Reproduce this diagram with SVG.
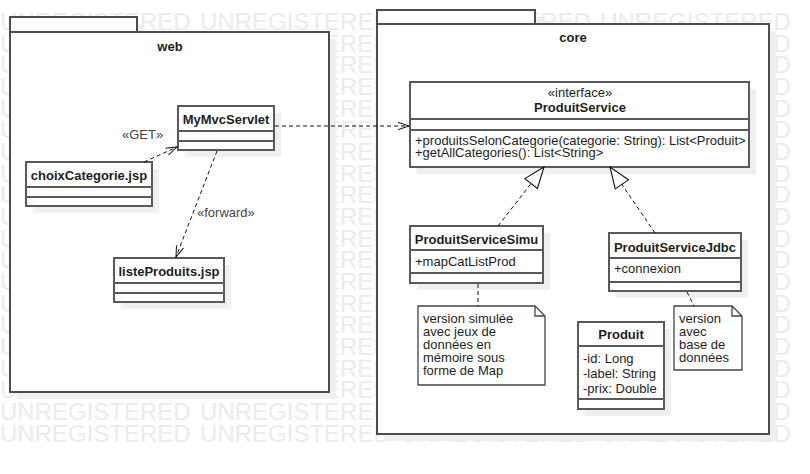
<svg xmlns="http://www.w3.org/2000/svg" width="810" height="474" viewBox="0 0 810 474">
<style>
text{font-family:"Liberation Sans",Arial,sans-serif;font-size:13px;fill:#1e1e1e}
.wm{font-size:24px;fill:#ebebeb;word-spacing:2.7px}
.b{font-weight:bold}
.c{text-anchor:middle}
.lbl{fill:#444}
.pkg{fill:#fff;stroke:#4d4d4d;stroke-width:2}
.sh{fill:#efefef}
.cls{fill:#fff;stroke:#5a5a5a;stroke-width:2}
.ln{stroke:#5a5a5a;stroke-width:2;fill:none}
.note{fill:#fff;stroke:#444;stroke-width:1.3}
.dash{fill:none;stroke:#111;stroke-width:1;stroke-dasharray:4,3}
</style>
<defs>
<marker id="open" markerUnits="userSpaceOnUse" markerWidth="14" markerHeight="10" refX="11" refY="4" orient="auto" overflow="visible">
<path d="M0,0.3 L11,4 L0,7.7" fill="none" stroke="#111" stroke-width="1" stroke-dasharray="none"/>
</marker>
<marker id="tri" markerUnits="userSpaceOnUse" markerWidth="24" markerHeight="18" refX="21" refY="8" orient="auto" overflow="visible">
<path d="M0,0 L21,8 L0,16 Z" fill="#fff" stroke="#111" stroke-width="1.1" stroke-dasharray="none"/>
</marker>
</defs>
<g id="watermark">
<text class="wm" x="0" y="30">UNREGISTERED UNREGISTERED UNREGISTERED UNREGISTERED<tspan x="0" y="420">UNREGISTERED UNREGISTERED UNREGISTERED UNREGISTERED</tspan><tspan x="0" y="441.67">UNREGISTERED UNREGISTERED UNREGISTERED UNREGISTERED</tspan><tspan x="0" y="51.67">U</tspan><tspan x="0" y="73.33">U</tspan><tspan x="0" y="95">U</tspan><tspan x="0" y="116.67">U</tspan><tspan x="0" y="138.33">U</tspan><tspan x="0" y="160">U</tspan><tspan x="0" y="181.67">U</tspan><tspan x="0" y="203.33">U</tspan><tspan x="0" y="225">U</tspan><tspan x="0" y="246.67">U</tspan><tspan x="0" y="268.33">U</tspan><tspan x="0" y="290">U</tspan><tspan x="0" y="311.67">U</tspan><tspan x="0" y="333.33">U</tspan><tspan x="0" y="355">U</tspan><tspan x="0" y="376.67">U</tspan><tspan x="0" y="398.33">U</tspan><tspan x="324" y="51.67">ERED</tspan><tspan x="324" y="73.33">ERED</tspan><tspan x="324" y="95">ERED</tspan><tspan x="324" y="116.67">ERED</tspan><tspan x="324" y="138.33">ERED</tspan><tspan x="324" y="160">ERED</tspan><tspan x="324" y="181.67">ERED</tspan><tspan x="324" y="203.33">ERED</tspan><tspan x="324" y="225">ERED</tspan><tspan x="324" y="246.67">ERED</tspan><tspan x="324" y="268.33">ERED</tspan><tspan x="324" y="290">ERED</tspan><tspan x="324" y="311.67">ERED</tspan><tspan x="324" y="333.33">ERED</tspan><tspan x="324" y="355">ERED</tspan><tspan x="324" y="376.67">ERED</tspan><tspan x="324" y="398.33">ERED</tspan><tspan x="757.4" y="51.67">ED</tspan><tspan x="757.4" y="73.33">ED</tspan><tspan x="757.4" y="95">ED</tspan><tspan x="757.4" y="116.67">ED</tspan><tspan x="757.4" y="138.33">ED</tspan><tspan x="757.4" y="160">ED</tspan><tspan x="757.4" y="181.67">ED</tspan><tspan x="757.4" y="203.33">ED</tspan><tspan x="757.4" y="225">ED</tspan><tspan x="757.4" y="246.67">ED</tspan><tspan x="757.4" y="268.33">ED</tspan><tspan x="757.4" y="290">ED</tspan><tspan x="757.4" y="311.67">ED</tspan><tspan x="757.4" y="333.33">ED</tspan><tspan x="757.4" y="355">ED</tspan><tspan x="757.4" y="376.67">ED</tspan><tspan x="757.4" y="398.33">ED</tspan></text>
</g>
<g id="pkg-web">
<rect class="sh" x="17" y="24" width="127" height="15"/>
<rect class="sh" x="17" y="39" width="319" height="360"/>
<rect class="pkg" x="10" y="17" width="127" height="15"/>
<rect class="pkg" x="10" y="32" width="319" height="360"/>
<text class="b c" x="170" y="51">web</text>
</g>
<g id="pkg-core">
<rect class="sh" x="384" y="17" width="158" height="14"/>
<rect class="sh" x="384" y="31" width="392" height="410"/>
<rect class="pkg" x="377" y="10" width="158" height="14"/>
<rect class="pkg" x="377" y="24" width="392" height="410"/>
<text class="b c" x="573" y="42">core</text>
</g>
<g id="MyMvcServlet">
<rect class="sh" x="185" y="113" width="96" height="44"/>
<rect class="cls" x="178" y="106" width="96" height="44"/>
<path class="ln" d="M178,131 H274 M178,141 H274"/>
<text class="b c" x="226" y="123.5">MyMvcServlet</text>
</g>
<g id="choixCategorie">
<rect class="sh" x="33" y="169" width="126" height="44"/>
<rect class="cls" x="26" y="162" width="126" height="44"/>
<path class="ln" d="M26,187 H152 M26,197 H152"/>
<text class="b c" x="89" y="179.5">choixCategorie.jsp</text>
</g>
<g id="listeProduits">
<rect class="sh" x="121" y="265" width="110" height="44"/>
<rect class="cls" x="114" y="258" width="110" height="44"/>
<path class="ln" d="M114,283 H224 M114,293 H224"/>
<text class="b c" x="169" y="275.5">listeProduits.jsp</text>
</g>
<g id="ProduitService">
<rect class="sh" x="417" y="89" width="339" height="85"/>
<rect class="cls" x="410" y="82" width="339" height="85"/>
<path class="ln" d="M410,119 H749 M410,130 H749"/>
<text class="c" x="580" y="97">«interface»</text>
<text class="b c" x="580" y="111.5">ProduitService</text>
<text x="415" y="145">+produitsSelonCategorie(categorie: String): List&lt;Produit&gt;</text>
<text x="415" y="157">+getAllCategories(): List&lt;String&gt;</text>
</g>
<g id="ProduitServiceSimu">
<rect class="sh" x="417" y="233" width="133" height="57"/>
<rect class="cls" x="410" y="226" width="133" height="57"/>
<path class="ln" d="M410,250 H543 M410,273 H543"/>
<text class="b c" x="476.5" y="244">ProduitServiceSimu</text>
<text x="415" y="265.5">+mapCatListProd</text>
</g>
<g id="ProduitServiceJdbc">
<rect class="sh" x="616" y="240" width="132" height="58"/>
<rect class="cls" x="609" y="233" width="132" height="58"/>
<path class="ln" d="M609,258 H741 M609,282 H741"/>
<text class="b c" x="675" y="251.5">ProduitServiceJdbc</text>
<text x="614" y="273">+connexion</text>
</g>
<g id="Produit">
<rect class="sh" x="585" y="329" width="86" height="87"/>
<rect class="cls" x="578" y="322" width="86" height="87"/>
<path class="ln" d="M578,346 H664 M578,399 H664"/>
<text class="b c" x="621" y="338.5">Produit</text>
<text x="583" y="362.5">-id: Long</text>
<text x="583" y="377.5">-label: String</text>
<text x="583" y="392.5">-prix: Double</text>
</g>
<g id="note-simu">
<path class="note" d="M418,306 H535 L545,316 V385 H418 Z M535,306 V316 H545"/>
<text x="423" y="322.5">version simulée</text>
<text x="423" y="335.5">avec jeux de</text>
<text x="423" y="348.5">données en</text>
<text x="423" y="361.5">mémoire sous</text>
<text x="423" y="374.5">forme de Map</text>
</g>
<g id="note-jdbc">
<path class="note" d="M674,306 H732 L742,316 V370 H674 Z M732,306 V316 H742"/>
<text x="679" y="322.5">version</text>
<text x="679" y="335.5">avec</text>
<text x="679" y="348.5">base de</text>
<text x="679" y="361.5">données</text>
</g>
<g id="connectors">
<path class="dash" d="M144,162 L177,147" marker-end="url(#open)"/>
<text class="lbl" x="122" y="138.5">«GET»</text>
<path class="dash" d="M217,151 L176,257" marker-end="url(#open)"/>
<text class="lbl" x="197" y="217">«forward»</text>
<path class="dash" d="M275,126 L409,126" marker-end="url(#open)"/>
<path class="dash" d="M498,226 L544,167" marker-end="url(#tri)"/>
<path class="dash" d="M655,233 L610,167" marker-end="url(#tri)"/>
<path class="dash" d="M478,284 L478,306"/>
<path class="dash" d="M687,292 L694,306"/>
</g>
</svg>
